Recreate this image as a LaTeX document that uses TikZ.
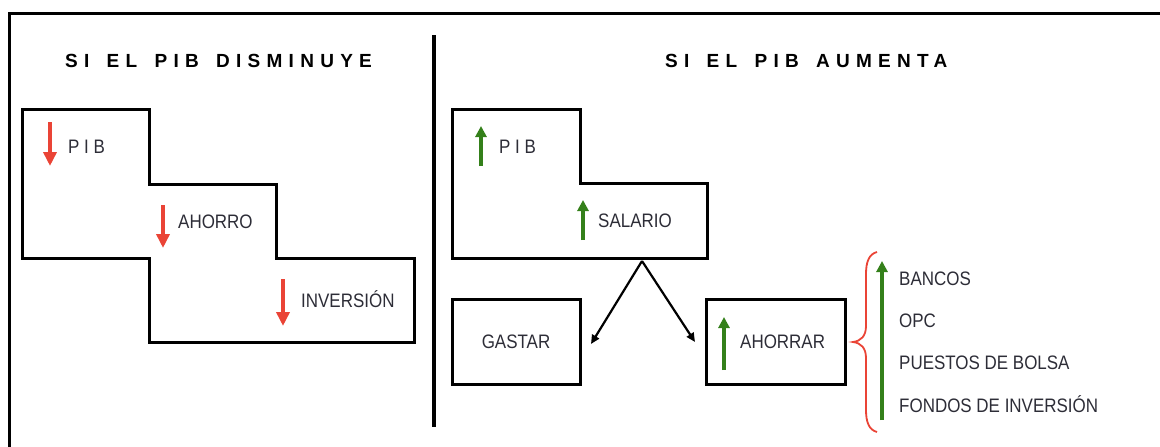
\documentclass[tikz,border=0pt]{standalone}
\usepackage{fontspec}
\setmainfont{Liberation Sans}[FakeStretch=0.87]
\newfontfamily\ttlfont{Liberation Sans}[UprightFont={* Bold}, LetterSpace=33, WordSpace=1.5]
\newfontfamily\spacedfont{Liberation Sans}[FakeStretch=0.87,LetterSpace=24]
\usetikzlibrary{arrows.meta}
\definecolor{myred}{RGB}{234,68,54}
\definecolor{mygreen}{RGB}{52,128,26}
\definecolor{txt}{RGB}{45,45,55}
\begin{document}
\begin{tikzpicture}[x=1pt,y=-1pt,
  lbl/.style={font=\fontsize{19.5}{22}\selectfont, text=txt, inner sep=0pt, anchor=west},
  spaced/.style={font=\fontsize{19.5}{22}\spacedfont, text=txt, inner sep=0pt, anchor=west},
  ttl/.style={font=\fontsize{19}{22}\ttlfont, text=black, inner sep=0pt, anchor=west},
  outline/.style={draw=black, line width=3pt},
  box/.style={draw=black, line width=3pt, inner sep=0pt, font=\fontsize{19.5}{22}\selectfont, text=txt},
  reddown/.style={draw=myred, line width=4pt, -{Triangle[length=14pt,width=13pt]}},
  greenup/.style={draw=mygreen, line width=3.5pt, -{Triangle[length=11pt,width=11pt]}},
  conn/.style={draw=black, line width=2.2pt, -{Triangle[length=9pt,width=8pt]}},
  bracestyle/.style={draw=myred, line width=1.8pt}
]
\useasboundingbox (0,0) rectangle (1160,447);
% frame
\draw[line width=3pt] (9,460) -- (9,13) -- (1175,13);
% divider
\draw[line width=4pt] (434,35) -- (434,427);
% titles
\node[ttl] (t1) at (65,61) {SI EL PIB DISMINUYE};
\node[ttl] (t2) at (665,61) {SI EL PIB AUMENTA};
% left staircase
\draw[outline] (22,109) -- (149,109) -- (149,184) -- (276,184) -- (276,258) -- (414,258) -- (414,342) -- (149,342) -- (149,258) -- (22,258) -- cycle;
\draw[reddown] (50,122) -- (50,166);
\node[spaced] (pib1) at (68,147) {PIB};
\draw[reddown] (163,205) -- (163,248);
\node[lbl] (ahorro) at (178,222) {AHORRO};
\draw[reddown] (283,279) -- (283,326);
\node[lbl] (inversion) at (301,299) {INVERSIÓN};
% right L-shape
\draw[outline] (452,109) -- (580,109) -- (580,183) -- (707,183) -- (707,258) -- (452,258) -- cycle;
\draw[greenup] (481,166) -- (481,126);
\node[spaced] (pib2) at (499,147) {PIB};
\draw[greenup] (583,240) -- (583,200);
\node[lbl] (salario) at (598,221) {SALARIO};
% boxes
\node[box, minimum width=128pt, minimum height=85pt] (gastar) at (516,342) {GASTAR};
\node[box, minimum width=139pt, minimum height=85pt] (ahorrarbox) at (775.5,342) {};
\draw[greenup] (724,370) -- (724,317);
\node[lbl] (ahorrar) at (740,342) {AHORRAR};
% connectors
\coordinate (split) at (642,261);
\coordinate (endG) at (591,344);
\coordinate (endA) at (695,342);
\draw[conn] (split) -- (endG);
\draw[conn] (split) -- (endA);
% brace and list
\coordinate (brT) at (877,252);
\coordinate (brTip) at (853,342);
\coordinate (brB) at (877,432);
\draw[bracestyle] (brT) .. controls (869,254) and (866,262) .. (866,274) -- (866,326)
  .. controls (866,336) and (861,341) .. (brTip)
  .. controls (861,343) and (866,348) .. (866,358) -- (866,410)
  .. controls (866,422) and (869,430) .. (brB);
\draw[greenup] (882,420) -- (882,261);
\node[lbl] (bancos) at (899,279) {BANCOS};
\node[lbl] (opc) at (899,321) {OPC};
\node[lbl] (puestos) at (899,363) {PUESTOS DE BOLSA};
\node[lbl] (fondos) at (899,404) {FONDOS DE INVERSIÓN};
\end{tikzpicture}
\end{document}
